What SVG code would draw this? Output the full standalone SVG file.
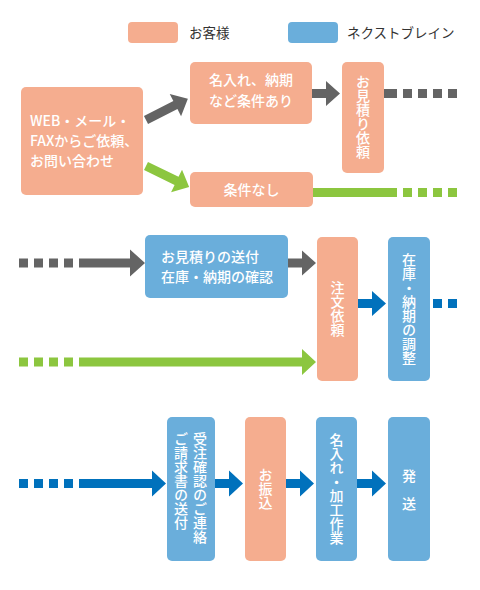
<svg xmlns="http://www.w3.org/2000/svg" width="480" height="590" viewBox="0 0 480 590">
<style>
.cu{fill:#F5AD8F}
.nb{fill:#6AAEDB}
.t{font-family:"Noto Sans CJK JP","Noto Sans",sans-serif;font-size:14px;fill:#fff;font-weight:500}
.lg{font-family:"Noto Sans CJK JP","Noto Sans",sans-serif;font-size:13.5px;fill:#333}
.v{writing-mode:vertical-rl;text-orientation:upright}
.g{fill:#646464}
.gr{fill:#8CC63F}
.b{fill:#0071BC}
</style>
<rect width="480" height="590" fill="#fff"/>
<g id="legend">
<rect class="cu" x="128" y="22" width="50" height="21" rx="4"/>
<text class="lg" x="189" y="38">お客様</text>
<rect class="nb" x="288" y="22" width="50" height="21" rx="4"/>
<text class="lg" x="347" y="38">ネクストブレイン</text>
</g>
<g id="n1"><rect class="cu" x="21" y="87" width="122" height="108" rx="5"/>
<text class="t" x="30" y="126">WEB・メール・</text>
<text class="t" x="30" y="146">FAXからご依頼、</text>
<text class="t" x="30" y="166">お問い合わせ</text></g>
<g id="n2"><rect class="cu" x="190" y="62" width="122" height="62" rx="5"/>
<text class="t" x="251" y="85" text-anchor="middle">名入れ、納期</text>
<text class="t" x="251" y="106" text-anchor="middle">など条件あり</text></g>
<g id="n3"><rect class="cu" x="342" y="62" width="42" height="111" rx="5"/>
<text class="t v" x="363" y="117" text-anchor="middle">お見積り依頼</text></g>
<g id="n4"><rect class="cu" x="190" y="172" width="123" height="35" rx="5"/>
<text class="t" x="251.5" y="195" text-anchor="middle">条件なし</text></g>
<g id="n5"><rect class="nb" x="145" y="235" width="143" height="63" rx="5"/>
<text class="t" x="161" y="262">お見積りの送付</text>
<text class="t" x="161" y="282">在庫・納期の確認</text></g>
<g id="n6"><rect class="cu" x="317" y="237" width="41" height="144" rx="5"/>
<text class="t v" x="337.5" y="309" text-anchor="middle">注文依頼</text></g>
<g id="n7"><rect class="nb" x="388" y="237" width="42" height="144" rx="5"/>
<text class="t v" x="409" y="309" text-anchor="middle">在庫・納期の調整</text></g>
<g id="n8"><rect class="nb" x="167" y="417" width="48" height="144" rx="5"/>
<text class="t v" x="200" y="432">受注確認のご連絡</text>
<text class="t v" x="181" y="432">ご請求書の送付</text></g>
<g id="n9"><rect class="cu" x="245" y="417" width="41" height="144" rx="5"/>
<text class="t v" x="265.5" y="489" text-anchor="middle">お振込</text></g>
<g id="n10"><rect class="nb" x="316" y="417" width="41" height="144" rx="5"/>
<text class="t v" x="336.5" y="489" text-anchor="middle">名入れ・加工作業</text></g>
<g id="n11"><rect class="nb" x="388" y="417" width="42" height="144" rx="5"/>
<text class="t v" x="409" y="490" text-anchor="middle">発　送</text></g>
<g id="connectors">
<path class="g" transform="translate(146,120) rotate(-27)" d="M0,-4.5H33V-12.5L47,0L33,12.5V4.5H0Z"/>
<path class="gr" transform="translate(146,166) rotate(26)" d="M0,-4.5H34V-12.5L48,0L34,12.5V4.5H0Z"/>
<path class="g" d="M312,89H326V81L340,93.5L326,106V98H312Z"/>
<g class="g"><rect x="384" y="89" width="13" height="9"/><rect x="403" y="89" width="9" height="9"/><rect x="418" y="89" width="9" height="9"/><rect x="433" y="89" width="9" height="9"/><rect x="448" y="89" width="9" height="9"/></g>
<g class="gr"><rect x="313" y="188" width="84" height="9"/><rect x="403" y="188" width="9" height="9"/><rect x="418" y="188" width="9" height="9"/><rect x="433" y="188" width="9" height="9"/><rect x="448" y="188" width="9" height="9"/></g>
<g class="g"><rect x="19" y="258.5" width="9" height="9"/><rect x="34" y="258.5" width="9" height="9"/><rect x="49" y="258.5" width="9" height="9"/><rect x="64" y="258.5" width="9" height="9"/></g>
<path class="g" d="M79,258.5H130V249.5L145,263L130,276.5V267.5H79Z"/>
<path class="g" d="M288,258.5H302V250.5L316,263L302,275.5V267.5H288Z"/>
<g class="gr"><rect x="19" y="357.5" width="9" height="9"/><rect x="34" y="357.5" width="9" height="9"/><rect x="49" y="357.5" width="9" height="9"/><rect x="64" y="357.5" width="9" height="9"/></g>
<path class="gr" d="M79,357.5H302V349L316,362L302,375V366.5H79Z"/>
<path class="b" d="M358,299H372V291L386,303.5L372,316V308H358Z"/>
<g class="b"><rect x="433" y="299" width="9" height="9"/><rect x="448" y="299" width="9" height="9"/></g>
<g class="b"><rect x="19" y="479" width="9" height="9"/><rect x="34" y="479" width="9" height="9"/><rect x="49" y="479" width="9" height="9"/><rect x="64" y="479" width="9" height="9"/></g>
<path class="b" d="M79,479H152V470.5L166,483.5L152,496.5V488H79Z"/>
<path class="b" d="M215,479H229V470.5L243,483.5L229,496.5V488H215Z"/>
<path class="b" d="M286,479H300V470.5L314,483.5L300,496.5V488H286Z"/>
<path class="b" d="M357,479H372V470.5L386,483.5L372,496.5V488H357Z"/>
</g>
</svg>
